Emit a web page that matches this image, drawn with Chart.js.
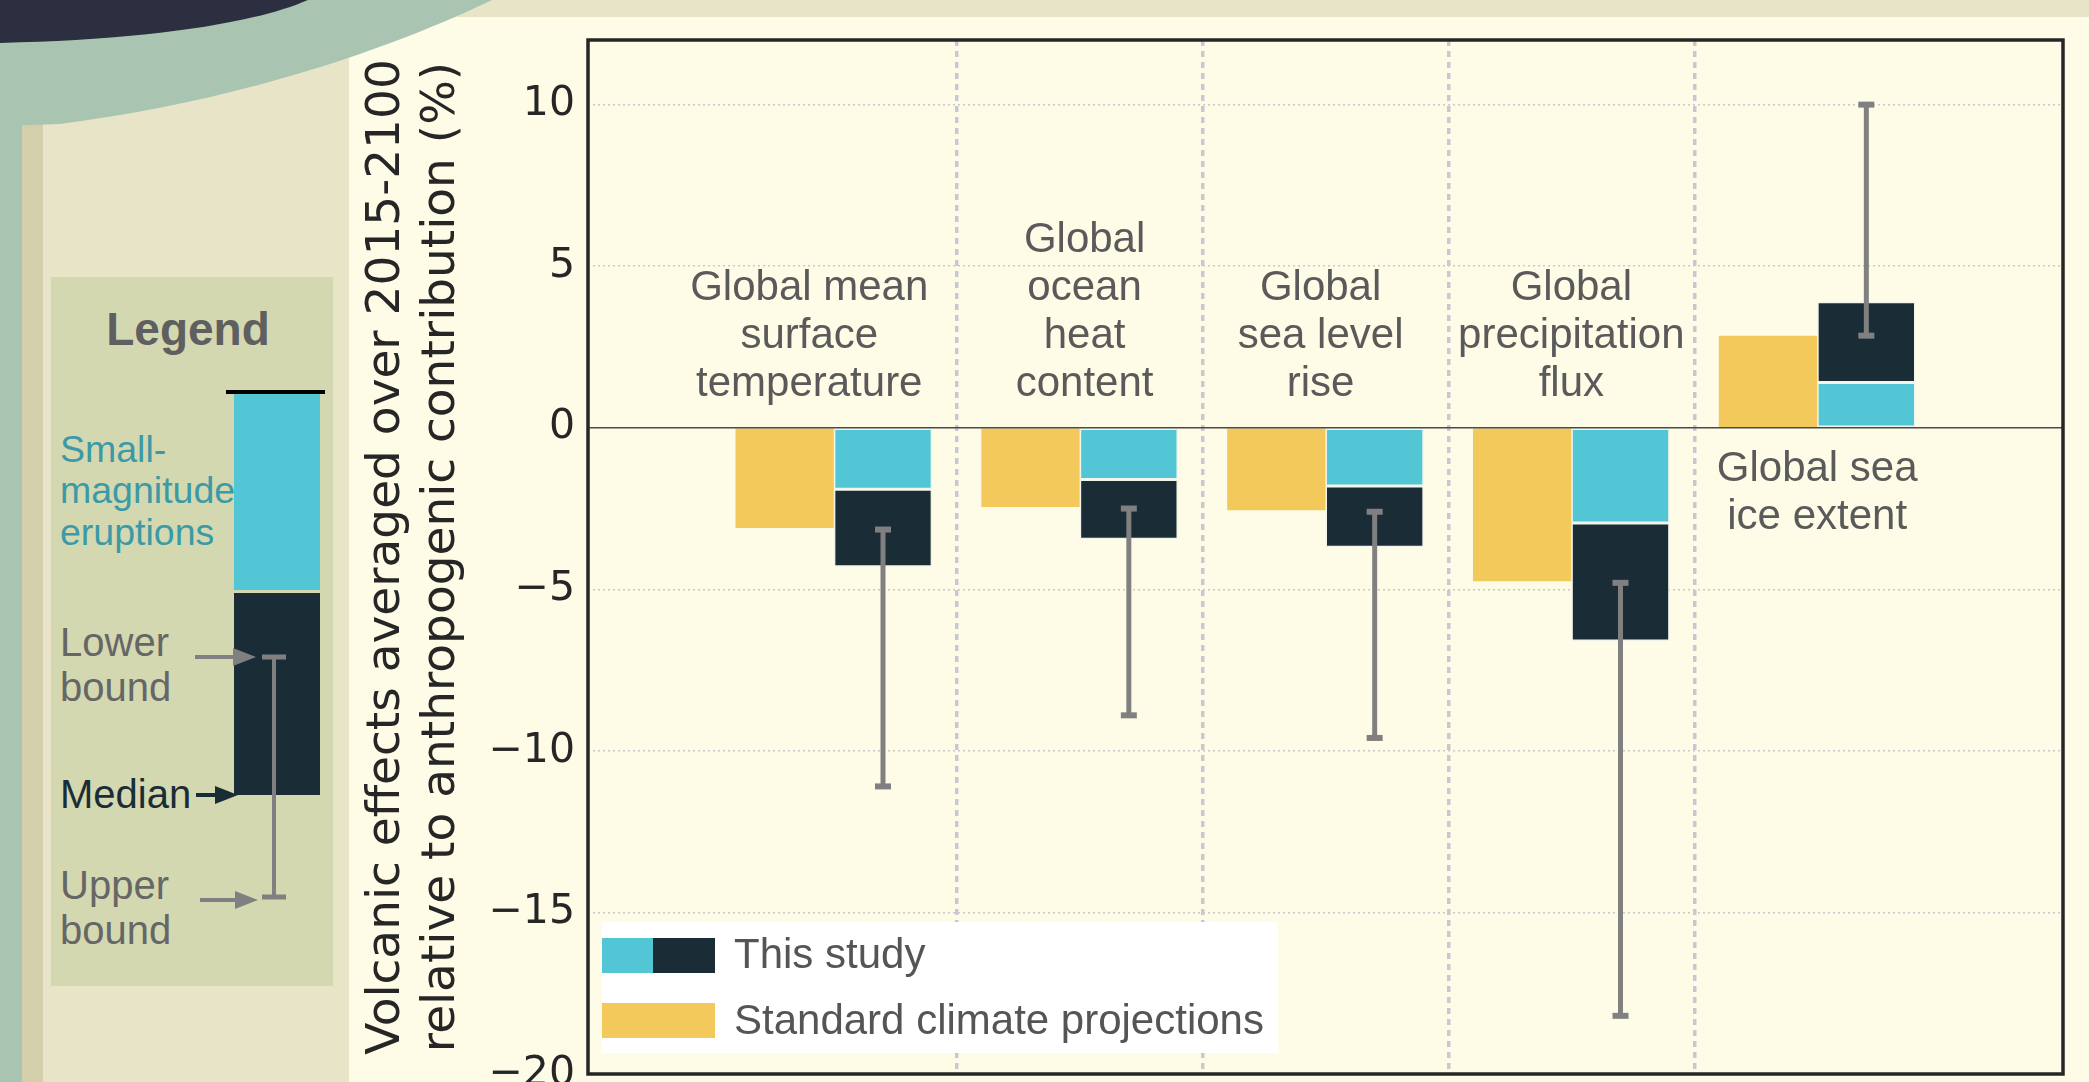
<!DOCTYPE html>
<html>
<head>
<meta charset="utf-8">
<script src="https://cdn.jsdelivr.net/npm/chart.js@4.4.1/dist/chart.umd.min.js"></script>
<style>
  html, body { margin: 0; padding: 0; width: 2089px; height: 1082px; overflow: hidden; background: #E8E4C8; }
  #stripeSage { position: absolute; left: 0; top: 0; width: 22px; height: 1082px; background: #AAC4B2; }
  #stripeTan { position: absolute; left: 22px; top: 110px; width: 21px; height: 972px; background: #D3CFAB; }
  #panel { position: absolute; left: 349px; top: 17px; width: 1740px; height: 1065px; background: #FEFCE6; }
  #panel canvas { position: absolute; left: 0; top: 0; }
  #overlay { position: absolute; left: 0; top: 0; pointer-events: none; }
  #overlay text { font-family: "Liberation Sans", Arial, Helvetica, sans-serif; dominant-baseline: central; }
</style>
</head>
<body>
<div id="stripeSage"></div>
<div id="stripeTan"></div>
<div id="panel"><canvas id="chart" width="1740" height="1065"></canvas></div>

<svg id="overlay" width="2089" height="1082" viewBox="0 0 2089 1082">
  <!-- header swoosh -->
  <path d="M0,0 H492 C405,42 250,100 60,124 L0,126 Z" fill="#AAC4B2"/>
  <path d="M0,0 H308 C250,25 140,40 0,43 Z" fill="#2B2F40"/>

  <!-- explanatory key -->
  <rect x="51" y="277" width="282" height="709" fill="#D3D8B0"/>
  <text x="188" y="329" text-anchor="middle" font-size="46" font-weight="bold" fill="#5f5f5f">Legend</text>

  <rect x="234" y="394" width="86" height="196" fill="#52C6D4"/>
  <rect x="234" y="593" width="86" height="202" fill="#1A2D37"/>
  <line x1="226" y1="392" x2="325" y2="392" stroke="#000" stroke-width="4"/>

  <line x1="274" y1="657" x2="274" y2="897" stroke="#808080" stroke-width="4"/>
  <line x1="262" y1="657" x2="286" y2="657" stroke="#808080" stroke-width="5"/>
  <line x1="262" y1="897" x2="286" y2="897" stroke="#808080" stroke-width="5"/>

  <text x="60" y="449" font-size="37.5" fill="#3c9aa6">Small-</text>
  <text x="60" y="490" font-size="37.5" fill="#3c9aa6">magnitude</text>
  <text x="60" y="532" font-size="37.5" fill="#3c9aa6">eruptions</text>

  <text x="60" y="642" font-size="40" fill="#666666">Lower</text>
  <text x="60" y="687" font-size="40" fill="#666666">bound</text>
  <line x1="195" y1="657" x2="236" y2="657" stroke="#808080" stroke-width="4"/>
  <path d="M233,648 L256,657 L233,666 Z" fill="#808080"/>

  <text x="60" y="794" font-size="40" fill="#1A2D37">Median</text>
  <line x1="196" y1="795" x2="218" y2="795" stroke="#1A2D37" stroke-width="4"/>
  <path d="M215,786 L238,795 L215,804 Z" fill="#1A2D37"/>

  <text x="60" y="885" font-size="40" fill="#666666">Upper</text>
  <text x="60" y="930" font-size="40" fill="#666666">bound</text>
  <line x1="200" y1="900" x2="238" y2="900" stroke="#808080" stroke-width="4"/>
  <path d="M235,891 L258,900 L235,909 Z" fill="#808080"/>
</svg>

<script>
// ---- data ----------------------------------------------------------------
const categoryLines = [
  ['Global mean', 'surface', 'temperature'],
  ['Global', 'ocean', 'heat', 'content'],
  ['Global', 'sea level', 'rise'],
  ['Global', 'precipitation', 'flux'],
  ['Global sea', 'ice extent']
];
const standardProjections = [-3.1, -2.45, -2.55, -4.75, 2.85];
const smallMagnitude      = [-1.9, -1.6, -1.8, -2.95, 1.4];
const studyMedian         = [-4.3, -3.45, -3.7, -6.6, 3.9];
const lowerBound          = [-3.15, -2.5, -2.6, -4.8, 2.85];
const upperBound          = [-11.1, -8.9, -9.6, -18.2, 10.0];
const yTickValues         = [-20, -15, -10, -5, 0, 5, 10];
const separatorValues     = [0.5, 1.5, 2.5, 3.5];
const legendLabels        = ['This study', 'Standard climate projections'];

// ---- styling -------------------------------------------------------------
const YELLOW = '#F3C95B';
const CYAN = '#52C6D4';
const DARK = '#1A2D37';
const EDGE = '#F1F4EA';
const TEXT_GREY = '#5a5a5a';
const SANS = '"Liberation Sans", Arial, Helvetica, sans-serif';
const labelNudge = [-0.1, 0.02, -0.02, 0, 0];

const annotate = {
  id: 'annotate',
  afterDatasetsDraw(chart) {
    const { ctx, chartArea: a, scales: { x, y } } = chart;
    const y0 = y.getPixelForValue(0);

    // zero reference line
    ctx.save();
    ctx.strokeStyle = '#4a4a4a';
    ctx.lineWidth = 1.6;
    ctx.beginPath();
    ctx.moveTo(a.left, y0);
    ctx.lineTo(a.right, y0);
    ctx.stroke();

    // uncertainty range of this study
    const medianMeta = chart.getDatasetMeta(2);
    ctx.strokeStyle = '#808080';
    ctx.lineCap = 'butt';
    lowerBound.forEach((lo, i) => {
      const cx = medianMeta.data[i].x;
      const p1 = y.getPixelForValue(lo);
      const p2 = y.getPixelForValue(upperBound[i]);
      ctx.lineWidth = 5;
      ctx.beginPath();
      ctx.moveTo(cx, p1);
      ctx.lineTo(cx, p2);
      ctx.stroke();
      ctx.lineWidth = 6;
      [p1, p2].forEach(p => {
        ctx.beginPath();
        ctx.moveTo(cx - 8, p);
        ctx.lineTo(cx + 8, p);
        ctx.stroke();
      });
    });

    // category names
    ctx.fillStyle = TEXT_GREY;
    ctx.font = '42px ' + SANS;
    ctx.textAlign = 'center';
    ctx.textBaseline = 'middle';
    const lh = 48;
    categoryLines.forEach((lines, i) => {
      const cx = x.getPixelForValue(i + labelNudge[i]);
      if (studyMedian[i] < 0) {
        const last = y0 - 43;
        lines.forEach((t, k) => ctx.fillText(t, cx, last - (lines.length - 1 - k) * lh));
      } else {
        const first = y0 + 42;
        lines.forEach((t, k) => ctx.fillText(t, cx, first + k * lh));
      }
    });

    // legend box
    const ds = chart.data.datasets;
    ctx.font = '42px ' + SANS;
    const textX = a.left + 14 + 132;
    const tw = Math.max(...legendLabels.map(t => ctx.measureText(t).width));
    const boxL = a.left + 14, boxW = 132 + tw + 14, boxH = 131, boxT = a.bottom - 21 - boxH;
    ctx.fillStyle = '#ffffff';
    ctx.fillRect(boxL, boxT, boxW, boxH);
    ctx.fillStyle = ds[1].backgroundColor;
    ctx.fillRect(boxL, boxT + 16, 51, 35);
    ctx.fillStyle = ds[2].backgroundColor;
    ctx.fillRect(boxL + 51, boxT + 16, 62, 35);
    ctx.fillStyle = ds[0].backgroundColor;
    ctx.fillRect(boxL, boxT + 81, 113, 35);
    ctx.fillStyle = '#555555';
    ctx.textAlign = 'left';
    ctx.fillText(legendLabels[0], textX, boxT + 34);
    ctx.fillText(legendLabels[1], textX, boxT + 100);

    // axes frame
    ctx.strokeStyle = '#262626';
    ctx.lineWidth = 3.5;
    ctx.strokeRect(a.left, a.top, a.right - a.left, a.bottom - a.top);
    ctx.restore();
  }
};

new Chart(document.getElementById('chart'), {
  type: 'bar',
  data: {
    datasets: [
      {
        label: legendLabels[1],
        stack: 'standard',
        data: standardProjections.map((v, i) => ({ x: i, y: v })),
        backgroundColor: YELLOW,
        borderWidth: 0,
        categoryPercentage: 0.8,
        barPercentage: 1.0
      },
      {
        label: 'Small-magnitude eruptions',
        stack: 'study',
        data: smallMagnitude.map((v, i) => ({ x: i, y: [0, v] })),
        backgroundColor: CYAN,
        borderColor: EDGE,
        borderWidth: 1.5,
        borderSkipped: false,
        categoryPercentage: 0.8,
        barPercentage: 1.0
      },
      {
        label: legendLabels[0],
        stack: 'study',
        data: studyMedian.map((v, i) => ({ x: i, y: [smallMagnitude[i], v] })),
        backgroundColor: DARK,
        borderColor: EDGE,
        borderWidth: 1.5,
        borderSkipped: false,
        categoryPercentage: 0.8,
        barPercentage: 1.0
      }
    ]
  },
  options: {
    responsive: false,
    animation: false,
    layout: { padding: { left: 0, top: 23, right: 26, bottom: 8 } },
    plugins: { legend: { display: false }, tooltip: { enabled: false } },
    scales: {
      x: {
        type: 'linear',
        min: -1,
        max: 5,
        offset: false,
        stacked: true,
        afterBuildTicks: s => { s.ticks = separatorValues.map(v => ({ value: v })); },
        afterFit: s => { s.height = 0; s.paddingLeft = 0; s.paddingRight = 0; },
        ticks: { display: false },
        grid: { offset: false, color: '#c8c8d2', lineWidth: 3.5, drawTicks: false },
        border: { display: false, dash: [6, 5] }
      },
      y: {
        min: -20,
        max: 12,
        stacked: false,
        afterBuildTicks: s => { s.ticks = yTickValues.map(v => ({ value: v })); },
        afterFit: s => { s.width = 239; s.paddingTop = 0; s.paddingBottom = 0; },
        ticks: {
          padding: 13,
          color: '#262626',
          font: { family: '"DejaVu Sans", sans-serif', size: 41 },
          callback: v => (v < 0 ? '\u2212' + Math.abs(v) : String(v))
        },
        grid: {
          drawTicks: false,
          lineWidth: 1.5,
          color: c => (c.tick && c.tick.value === 0 ? 'rgba(0,0,0,0)' : '#c9c9c9')
        },
        border: { display: false, dash: [2, 3] },
        title: {
          display: true,
          text: ['Volcanic effects averaged over 2015-2100', 'relative to anthropogenic contribution (%)'],
          color: '#262626',
          font: { family: '"DejaVu Sans", sans-serif', size: 47, lineHeight: 1.17 },
          padding: { top: 10, bottom: 0 }
        }
      }
    }
  },
  plugins: [annotate]
});
</script>
</body>
</html>
